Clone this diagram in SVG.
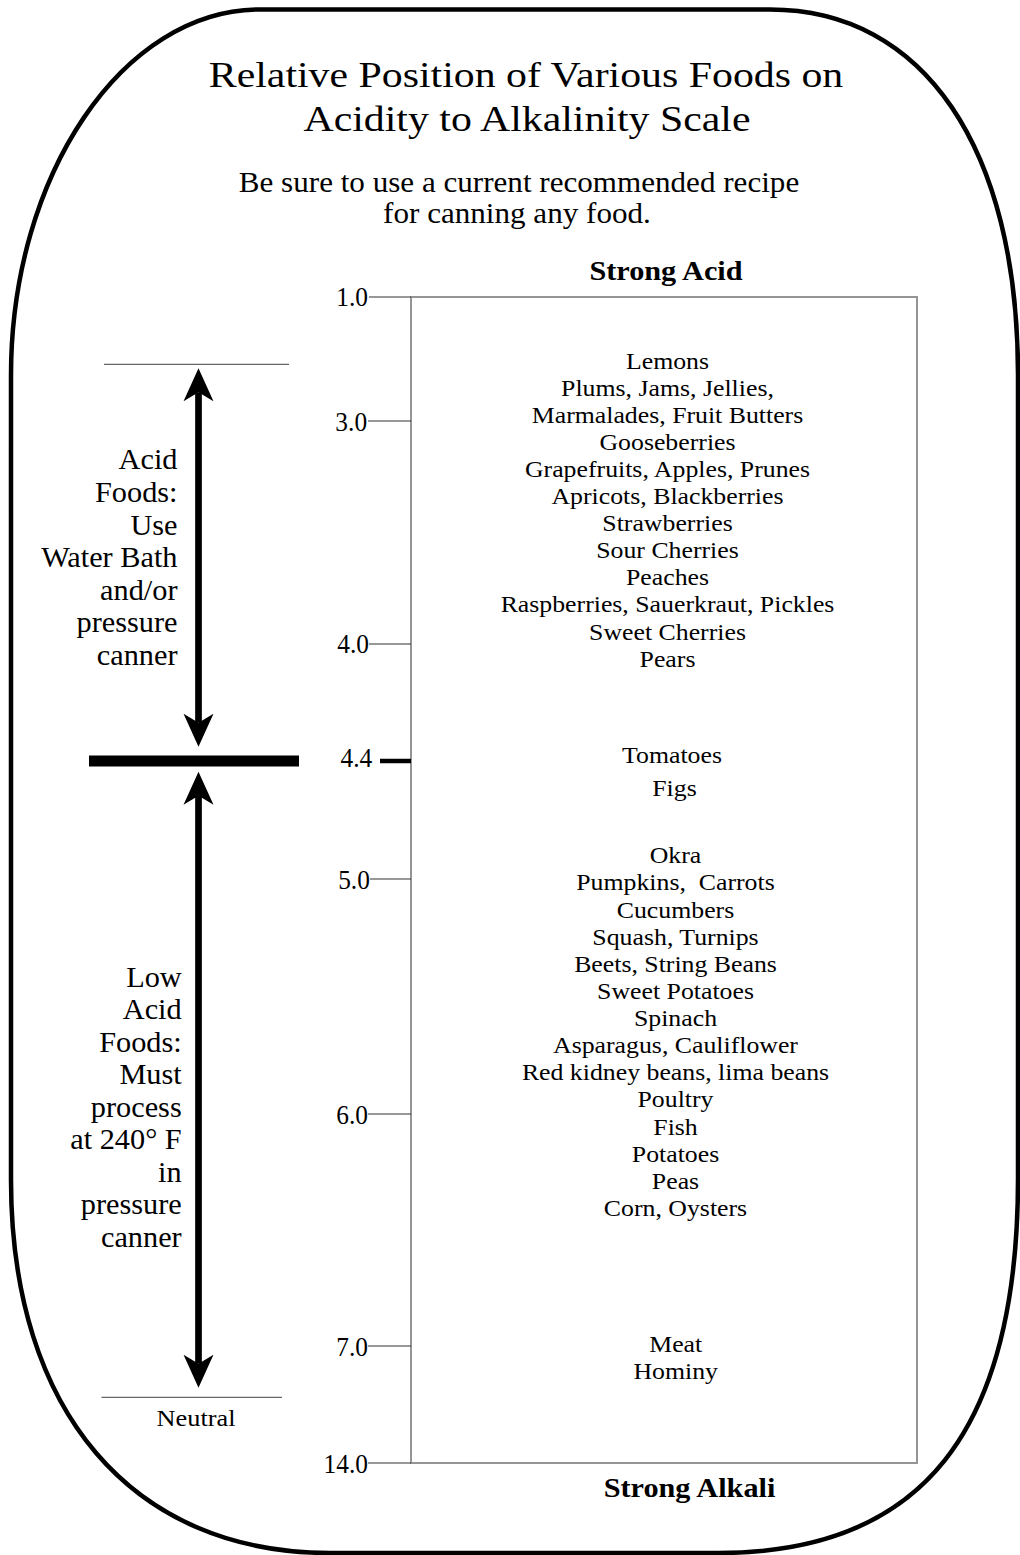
<svg xmlns="http://www.w3.org/2000/svg" width="1020" height="1555" viewBox="0 0 1020 1555">
<style>
text { font-family: "Liberation Serif", "Times New Roman", serif; fill: #000; }
.title { font-size: 35px; text-anchor: middle; }
.sub { font-size: 30.5px; text-anchor: middle; }
.head { font-size: 27.5px; font-weight: bold; text-anchor: middle; }
.tick { font-size: 27px; text-anchor: end; }
.food { font-size: 24px; text-anchor: middle; }
.side { font-size: 30.3px; text-anchor: end; }
.neutral { font-size: 23.5px; text-anchor: middle; }
.tl { stroke: #333; stroke-width: 1.2; fill: none; }
.thin { stroke: #666; stroke-width: 1.2; fill: none; }
.shaft { stroke: #000; stroke-width: 6.7; fill: none; }
</style>
<defs>
<marker id="head" markerUnits="userSpaceOnUse" viewBox="0 -20 40 40" markerWidth="40" markerHeight="40" refX="9" refY="0" orient="auto-start-reverse">
<path d="M0,-15 L33,0 L0,15 L9,0 Z" fill="#000"/>
</marker>
</defs>
<rect x="0" y="0" width="1020" height="1555" fill="#fff"/>

<g id="frame">
<path d="M 260,9.5 H 770 C 923.8,9.5 1018,148 1018,375 V 1178 C 1018,1431.6 922,1553 718,1553 H 330 C 132.2,1553 11,1411.3 11,1180 V 375 C 11,176 122.4,9.5 260,9.5 Z" fill="none" stroke="#000" stroke-width="4.5"/>
</g>

<g id="title">
<g transform="translate(526,0) scale(1.195,1)">
<text class="title" x="0" y="87.5">Relative Position of Various Foods on</text>
<text class="title" x="0.8" y="131.5">Acidity to Alkalinity Scale</text>
</g>
</g>

<g id="subtitle">
<g transform="translate(519,0) scale(1.02,1)">
<text class="sub" x="0" y="192">Be sure to use a current recommended recipe</text>
<text class="sub" x="-2" y="223.5">for canning any food.</text>
</g>
</g>

<g id="strong-acid">
<g transform="translate(666,0) scale(1.1,1)">
<text class="head" x="0" y="280">Strong Acid</text>
</g>
</g>
<g id="strong-alkali">
<g transform="translate(689.5,0) scale(1.1,1)">
<text class="head" x="0" y="1497">Strong Alkali</text>
</g>
</g>

<g id="scale-box">
<rect x="411" y="297" width="506" height="1166" fill="none" stroke="#8a8a8a" stroke-width="1.8"/>
</g>

<g id="ticks">
<line class="tl" x1="369" y1="297" x2="411" y2="297"/>
<line class="tl" x1="368" y1="421" x2="411" y2="421"/>
<line class="tl" x1="369" y1="644" x2="411" y2="644"/>
<line x1="380" y1="761" x2="411" y2="761" stroke="#000" stroke-width="4.5"/>
<line class="tl" x1="370" y1="879" x2="411" y2="879"/>
<line class="tl" x1="368" y1="1114" x2="411" y2="1114"/>
<line class="tl" x1="368" y1="1346" x2="411" y2="1346"/>
<line class="tl" x1="368" y1="1463" x2="411" y2="1463"/>
<g transform="translate(368,0) scale(0.94,1)">
<text class="tick" x="0" y="306">1.0</text>
<text class="tick" x="-1" y="431">3.0</text>
<text class="tick" x="1" y="653.5">4.0</text>
<text class="tick" x="4.5" y="767">4.4</text>
<text class="tick" x="2" y="889">5.0</text>
<text class="tick" x="0" y="1124">6.0</text>
<text class="tick" x="0" y="1356">7.0</text>
<text class="tick" x="0" y="1473">14.0</text>
</g>
</g>

<g id="acid-foods-list">
<g transform="translate(667.5,0) scale(1.075,1)">
<text class="food" x="0" y="369">Lemons</text>
<text class="food" x="0" y="396">Plums, Jams, Jellies,</text>
<text class="food" x="0" y="423">Marmalades, Fruit Butters</text>
<text class="food" x="0" y="450">Gooseberries</text>
<text class="food" x="0" y="477">Grapefruits, Apples, Prunes</text>
<text class="food" x="0" y="504">Apricots, Blackberries</text>
<text class="food" x="0" y="531">Strawberries</text>
<text class="food" x="0" y="558">Sour Cherries</text>
<text class="food" x="0" y="585">Peaches</text>
<text class="food" x="0" y="612.5">Raspberries, Sauerkraut, Pickles</text>
<text class="food" x="0" y="640">Sweet Cherries</text>
<text class="food" x="0" y="667">Pears</text>
</g>
</g>

<g id="borderline-foods">
<g transform="translate(672,0) scale(1.075,1)">
<text class="food" x="0" y="763.5">Tomatoes</text>
<text class="food" x="2.3" y="796">Figs</text>
</g>
</g>

<g id="low-acid-foods-list">
<g transform="translate(675.5,0) scale(1.075,1)">
<text class="food" x="0" y="863.3">Okra</text>
<text class="food" x="0" y="890.4" xml:space="preserve">Pumpkins,  Carrots</text>
<text class="food" x="0" y="917.6">Cucumbers</text>
<text class="food" x="0" y="944.7">Squash, Turnips</text>
<text class="food" x="0" y="971.8">Beets, String Beans</text>
<text class="food" x="0" y="999">Sweet Potatoes</text>
<text class="food" x="0" y="1026.1">Spinach</text>
<text class="food" x="0" y="1053.2">Asparagus, Cauliflower</text>
<text class="food" x="0" y="1080.3">Red kidney beans, lima beans</text>
<text class="food" x="0" y="1107.5">Poultry</text>
<text class="food" x="0" y="1134.6">Fish</text>
<text class="food" x="0" y="1161.7">Potatoes</text>
<text class="food" x="0" y="1188.9">Peas</text>
<text class="food" x="0" y="1216">Corn, Oysters</text>
</g>
</g>

<g id="neutral-foods">
<g transform="translate(675.7,0) scale(1.075,1)">
<text class="food" x="0" y="1352">Meat</text>
<text class="food" x="0" y="1379.5">Hominy</text>
</g>
</g>

<g id="acid-foods-label">
<text class="side" x="177.5" y="469.3">Acid</text>
<text class="side" x="177.5" y="501.9">Foods:</text>
<text class="side" x="177.5" y="534.5">Use</text>
<text class="side" x="177.5" y="567.1">Water Bath</text>
<text class="side" x="177.5" y="599.8">and/or</text>
<text class="side" x="177.5" y="632.4">pressure</text>
<text class="side" x="177.5" y="665">canner</text>
</g>

<g id="low-acid-foods-label">
<text class="side" x="181.7" y="986.7">Low</text>
<text class="side" x="181.7" y="1019.2">Acid</text>
<text class="side" x="181.7" y="1051.7">Foods:</text>
<text class="side" x="181.7" y="1084.2">Must</text>
<text class="side" x="181.7" y="1116.7">process</text>
<text class="side" x="181.7" y="1149.2">at 240° F</text>
<text class="side" x="181.7" y="1181.7">in</text>
<text class="side" x="181.7" y="1214.2">pressure</text>
<text class="side" x="181.7" y="1246.7">canner</text>
</g>

<g id="threshold-bar">
<rect x="89" y="755.5" width="210" height="11" fill="#000"/>
</g>

<g id="neutral-label">
<line class="thin" x1="101.5" y1="1397.3" x2="282" y2="1397.3"/>
<g transform="translate(196,0) scale(1.12,1)">
<text class="neutral" x="0" y="1426.5">Neutral</text>
</g>
</g>

<g id="connectors">
<line class="thin" x1="104" y1="364.3" x2="289" y2="364.3"/>
<line class="shaft" x1="198.5" y1="392.3" x2="198.5" y2="722.7" marker-start="url(#head)" marker-end="url(#head)"/>
<line class="shaft" x1="198.5" y1="795.7" x2="198.5" y2="1363.7" marker-start="url(#head)" marker-end="url(#head)"/>
</g>
</svg>
